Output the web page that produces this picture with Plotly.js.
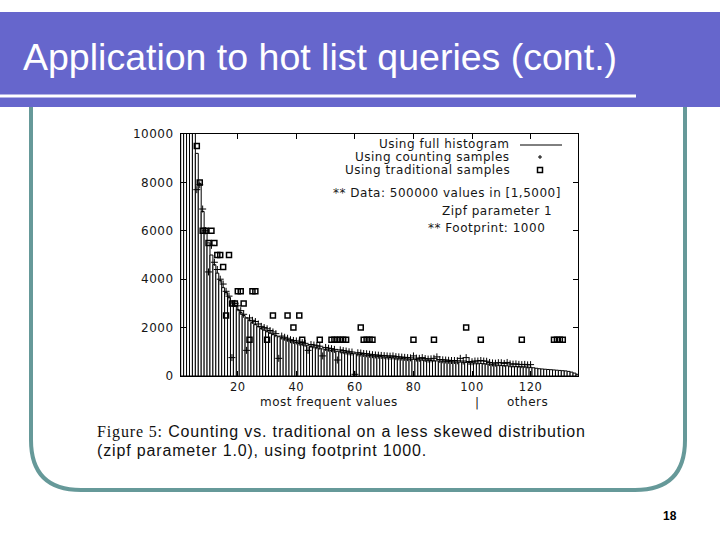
<!DOCTYPE html>
<html>
<head>
<meta charset="utf-8">
<script src="https://cdn.plot.ly/plotly-3.0.1.min.js"></script>
<style>
html,body{margin:0;padding:0;background:#fff;}
#chart{width:720px;height:540px;}
</style>
</head>
<body>
<div id="chart"></div>
<script>
// ---- data ----
// full histogram: frequency of the i-th most frequent value (i = 1..136)
const fullHistogram = [
55000,27500,18300,13700,11000,9200,7950,6800,6100,5500,
5000,4600,4250,3950,3650,3450,3250,3050,2900,2750,
2620,2500,2400,2300,2200,2120,2040,1960,1900,1830,
1770,1720,1670,1620,1570,1530,1490,1450,1410,1380,
1340,1310,1280,1250,1220,1200,1170,1150,1120,1100,
1080,1060,1040,1020,1000,980,965,950,930,920,
900,890,875,860,845,835,820,810,800,785,
775,765,755,745,735,725,715,705,695,690,
680,670,665,655,648,640,632,625,618,612,
605,598,592,585,580,573,567,561,556,550,
540,530,520,510,500,490,470,460,450,440,
430,420,410,400,395,390,385,380,370,360,
340,320,300,290,280,270,260,250,240,230,
220,210,190,160,120,70
];
// counting samples estimates
const countingX = [
6,7,8,9,10,11,12,13,14,15,16,17,18,19,20,21,22,23,24,25,
26,27,28,29,30,31,32,33,34,35,36,37,38,39,40,41,42,43,44,45,
46,47,48,49,50,51,52,53,54,55,56,57,58,59,60,61,62,63,64,65,
66,67,68,69,70,71,72,73,74,75,76,77,78,79,80,81,82,83,84,85,
86,87,88,89,90,91,92,93,94,95,96,97,98,99,100,101,102,103,104,105,
106,107,108,109,110,111,112,113,114,115,116,117,118,119,120
];
const countingY = [
7700,7900,6900,6000,4300,5400,4700,4400,4000,3800,3500,3300,760,3000,2900,2700,2550,1060,2400,2300,
2250,2150,2050,2000,1950,1880,1820,1750,730,1650,1600,1560,1500,1470,1450,1400,1380,1350,1060,1300,
1280,1250,1230,830,1180,1150,1130,1100,660,1080,1050,1030,1000,990,70,960,950,930,920,900,
880,870,860,850,840,830,820,830,800,790,780,770,760,750,830,740,730,760,720,700,
710,730,790,680,670,660,650,640,640,630,730,620,760,600,590,620,620,640,620,610,
560,540,530,550,550,520,560,500,490,500,480,470,480,460,470
];
// traditional samples estimates
const traditionalX = [6,7,8,9,10,11,12,13,14,15,16,17,18,19,20,21,22,24,25,26,
30,32,37,39,41,42,48,52,53,54,55,56,57,62,63,64,65,66,80,87,98,103,117,128,129,130,131];
const traditionalY = [9500,8000,6000,6000,5500,6000,5500,5000,5000,4500,2500,5000,3000,3000,3500,3500,3000,1500,3500,3500,
1500,2500,2500,2000,2500,1500,1500,1500,1500,1500,1500,1500,1500,2000,1500,1500,1500,1500,1500,1500,2000,1500,1500,1500,1500,1500,1500];
const xTickVals = [20,40,60,80,100,120];
const xTickText = ['20','40','60','80','100','120'];
const yTickVals = [0,2000,4000,6000,8000,10000];
const yTickText = ['0','2000','4000','6000','8000','10000'];
const legendLabels = ["Using full histogram","Using counting samples","Using traditional samples"];
const noteLines = ["** Data: 500000 values in [1,5000]","Zipf parameter 1","** Footprint: 1000"];

// ---- geometry (pixel frame of the plot area) ----
const L = 181, R = 578, T = 134, B = 376;
const W = R - L, H = B - T;
const px = x => (x - L) / W;
const py = y => (B - y) / H;

const barX = fullHistogram.map((v, i) => i + 1);
const chartFont = 'DejaVu Sans, sans-serif';
const sansFont = 'Liberation Sans, Arial, sans-serif';
const ink = '#161616';
const wide = (t, ls) => '<span style="letter-spacing:' + ls + 'px">' + t + '</span>';

const traces = [
  {type:'bar', x:barX, y:fullHistogram, width:1,
   marker:{color:'#ffffff', line:{color:'#000', width:1}}, showlegend:false, hoverinfo:'skip'},
  {type:'scatter', mode:'markers', x:countingX, y:countingY,
   marker:{symbol:'cross-thin-open', size:5, color:'#000', line:{color:'#000', width:1}}, showlegend:false},
  {type:'scatter', mode:'markers', x:traditionalX, y:traditionalY,
   marker:{symbol:'square-open', size:5, color:'#000', line:{color:'#000', width:1.5}}, showlegend:false}
];

function ann(text, x, y, opts) {
  return Object.assign({text:text, x:px(x), y:py(y), xref:'paper', yref:'paper',
    showarrow:false, xanchor:'left', yanchor:'middle',
    font:{family:chartFont, size:12, color:ink}}, opts || {});
}

const LS = 0.5;
const annotations = [
  // slide title
  ann('Application to hot list queries (cont.)', 21, 57,
      {font:{family:sansFont, size:37.5, color:'#ffffff'}}),
  // legend
  ann(wide(legendLabels[0], LS), 512, 144, {xanchor:'right'}),
  ann(wide(legendLabels[1], LS), 512, 157, {xanchor:'right'}),
  ann(wide(legendLabels[2], LS), 512, 170, {xanchor:'right'}),
  ann(wide(noteLines[0], LS), 563, 193, {xanchor:'right'}),
  ann(wide(noteLines[1], LS), 554, 211, {xanchor:'right'}),
  ann(wide(noteLines[2], LS), 547, 228, {xanchor:'right'}),
  // axis captions
  ann(wide('most frequent values', LS), 329, 402, {xanchor:'center'}),
  ann('|', 477, 403, {xanchor:'center'}),
  ann(wide('others', LS), 527, 402, {xanchor:'center'}),
  // figure caption
  ann(wide('<span style="font-family:Liberation Serif, Times New Roman, serif">Figure 5:</span> Counting vs. traditional on a less skewed distribution', 0.85),
      95, 432, {font:{family:sansFont, size:16, color:'#111'}}),
  ann(wide('(zipf parameter 1.0), using footprint 1000.', 0.85), 95, 450,
      {font:{family:sansFont, size:16, color:'#111'}}),
  // page number
  ann('<b>18</b>', 670, 516, {xanchor:'center', font:{family:sansFont, size:12, color:'#000'}})
];

function framePath() {
  const l = 31, r = 685, t = 100, b = 490, rad = 50;
  const P = (x, y) => px(x) + ',' + py(y);
  return 'M' + P(l, t) + ' L' + P(l, b - rad) + ' Q' + P(l, b) + ' ' + P(l + rad, b) +
         ' L' + P(r - rad, b) + ' Q' + P(r, b) + ' ' + P(r, b - rad) + ' L' + P(r, t);
}

const shapes = [
  // rounded slide frame
  {type:'path', xref:'paper', yref:'paper', path:framePath(), line:{color:'#669999', width:4}},
  // blue title band
  {type:'rect', xref:'paper', yref:'paper', x0:px(0), x1:px(720), y0:py(12), y1:py(107),
   fillcolor:'#6666cc', line:{width:0}},
  // white rule under the title
  {type:'rect', xref:'paper', yref:'paper', x0:px(0), x1:px(636), y0:py(94.5), y1:py(97.5),
   fillcolor:'#ffffff', line:{width:0}},
  // legend samples
  {type:'line', xref:'paper', yref:'paper', x0:px(520), x1:px(562), y0:py(145), y1:py(145),
   line:{color:'#000', width:1}},
  {type:'line', xref:'paper', yref:'paper', x0:px(538), x1:px(542), y0:py(157), y1:py(157),
   line:{color:'#000', width:1}},
  {type:'line', xref:'paper', yref:'paper', x0:px(540), x1:px(540), y0:py(155), y1:py(159),
   line:{color:'#000', width:1}},
  {type:'rect', xref:'paper', yref:'paper', x0:px(537.5), x1:px(542.5), y0:py(167.5), y1:py(172.5),
   line:{color:'#000', width:1.5}}
];

const axisCommon = {
  ticks:'inside', ticklen:5, tickwidth:1, tickcolor:'#000',
  showline:true, linecolor:'#000', linewidth:1, mirror:'ticks',
  showgrid:false, zeroline:false,
  tickfont:{family:chartFont, size:12, color:ink}
};

const layout = {
  width:720, height:540, autosize:false,
  margin:{l:L, r:720 - R, t:T, b:540 - B, pad:0},
  paper_bgcolor:'#ffffff', plot_bgcolor:'#ffffff',
  showlegend:false, bargap:0,
  xaxis:Object.assign({}, axisCommon, {range:[0.6, 136.2], tickmode:'array', tickvals:xTickVals,
    ticktext:xTickText.map(t => wide(t, LS)), ticklabelstandoff:0,
    tickfont:{family:chartFont, size:11.5, color:ink}}),
  yaxis:Object.assign({}, axisCommon, {range:[0, 10000], tickmode:'array', tickvals:yTickVals,
    ticktext:yTickText.map(t => wide(t, LS)), ticklabelstandoff:4}),
  annotations:annotations,
  shapes:shapes
};

Plotly.newPlot('chart', traces, layout, {displayModeBar:false, staticPlot:true});
</script>
</body>
</html>
